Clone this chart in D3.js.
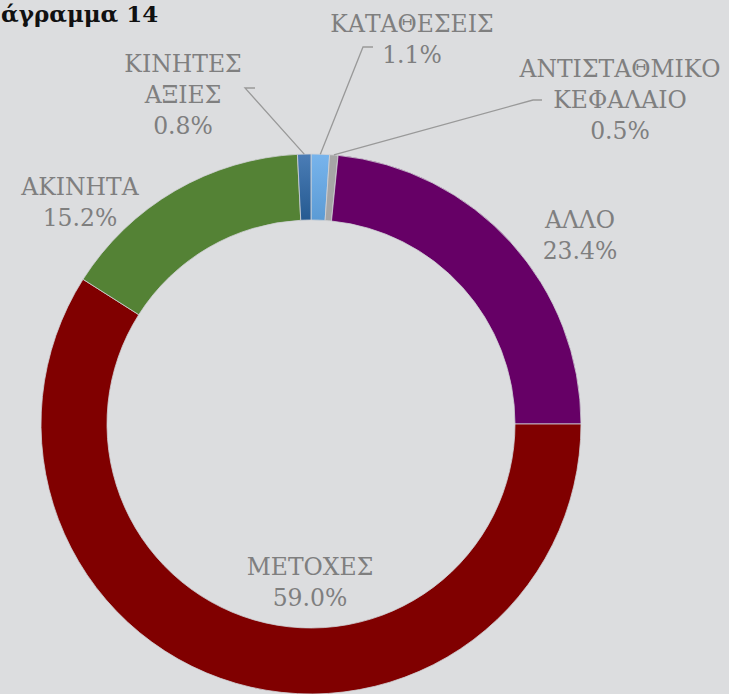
<!DOCTYPE html>
<html>
<head>
<meta charset="utf-8">
<script src="https://cdn.jsdelivr.net/npm/d3@7"></script>
<style>
  body { margin: 0; background: #dcdddf; }
  svg { display: block; }
</style>
</head>
<body>
<div class="donut"></div>
<script>
(function(){
// data, clockwise from 12 o'clock
var categories = ["ΚΑΤΑΘΕΣΕΙΣ", "ΑΝΤΙΣΤΑΘΜΙΚΟ ΚΕΦΑΛΑΙΟ", "ΑΛΛΟ", "ΜΕΤΟΧΕΣ", "ΑΚΙΝΗΤΑ", "ΚΙΝΗΤΕΣ ΑΞΙΕΣ"];
var shares = [1.1, 0.5, 23.4, 59.0, 15.2, 0.8];
var labelLines = [["ΚΑΤΑΘΕΣΕΙΣ"], ["ΑΝΤΙΣΤΑΘΜΙΚΟ", "ΚΕΦΑΛΑΙΟ"], ["ΑΛΛΟ"], ["ΜΕΤΟΧΕΣ"], ["ΑΚΙΝΗΤΑ"], ["ΚΙΝΗΤΕΣ", "ΑΞΙΕΣ"]];

var colors = ["url(#gLight)", "#a6a6a6", "#660066", "#800000", "#548235", "url(#gDark)"];

// label placement relative to the chart centre (x of text centre, baseline of first line)
var labelPos = [
  {x: 101, y: -392, elbow: [[52, -377], [62, -377]]},
  {x: 309, y: -347, elbow: [[222, -324], [231, -324]]},
  {x: 269, y: -196},
  {x: -1, y: 151},
  {x: -231, y: -229},
  {x: -128, y: -352, elbow: [[-66, -336], [-56, -336]]}
];

var width = 729, height = 694,
    cx = 311, cy = 424,
    outerR = 270, innerR = 204;

var svg = d3.select(".donut").append("svg")
    .attr("width", width)
    .attr("height", height);

var defs = svg.append("defs");
var g1 = defs.append("linearGradient").attr("id", "gLight")
    .attr("x1", 0).attr("y1", 0).attr("x2", 0).attr("y2", 1);
g1.append("stop").attr("offset", "0%").attr("stop-color", "#78b4ec");
g1.append("stop").attr("offset", "100%").attr("stop-color", "#5b9bd5");
var g2 = defs.append("linearGradient").attr("id", "gDark")
    .attr("x1", 0).attr("y1", 0).attr("x2", 0).attr("y2", 1);
g2.append("stop").attr("offset", "0%").attr("stop-color", "#4b7db6");
g2.append("stop").attr("offset", "100%").attr("stop-color", "#255a91");

// title (cut off on the left in the original)
svg.append("text")
    .attr("x", 1).attr("y", 22)
    .style("font-family", "'DejaVu Serif', serif")
    .style("font-weight", "bold")
    .style("font-size", "23px")
    .style("fill", "#111")
    .text("άγραμμα 14");

var chart = svg.append("g")
    .attr("transform", "translate(" + cx + "," + cy + ")");

var pie = d3.pie().sort(null).value(function(d) { return d; });
var arcs = pie(shares);

var arc = d3.arc().innerRadius(innerR).outerRadius(outerR);
var edge = d3.arc().innerRadius(outerR).outerRadius(outerR);

chart.selectAll("path.slice")
    .data(arcs)
  .enter().append("path")
    .attr("class", "slice")
    .attr("d", arc)
    .style("fill", function(d, i) { return colors[i]; })
    .style("stroke", "#d0d2d6")
    .style("stroke-width", 0.8);

// leader lines for the thin slices
arcs.forEach(function(d, i) {
  var p = labelPos[i];
  if (!p.elbow) return;
  var start = edge.centroid(d);
  var pts = [start].concat(p.elbow);
  chart.append("path")
      .attr("d", d3.line()(pts))
      .style("fill", "none")
      .style("stroke", "#999")
      .style("stroke-width", 1.3);
});

// labels
arcs.forEach(function(d, i) {
  var p = labelPos[i];
  var lines = labelLines[i].concat([d3.format(".1f")(shares[i]) + "%"]);
  var t = chart.append("text")
      .attr("text-anchor", "middle")
      .style("font-family", "'DejaVu Serif', serif")
      .style("font-size", "23.5px")
      .style("fill", "#7f7f7f");
  lines.forEach(function(s, j) {
    t.append("tspan")
        .attr("x", p.x)
        .attr("y", p.y + j * 31)
        .text(s);
  });
});
})();
</script>
</body>
</html>
